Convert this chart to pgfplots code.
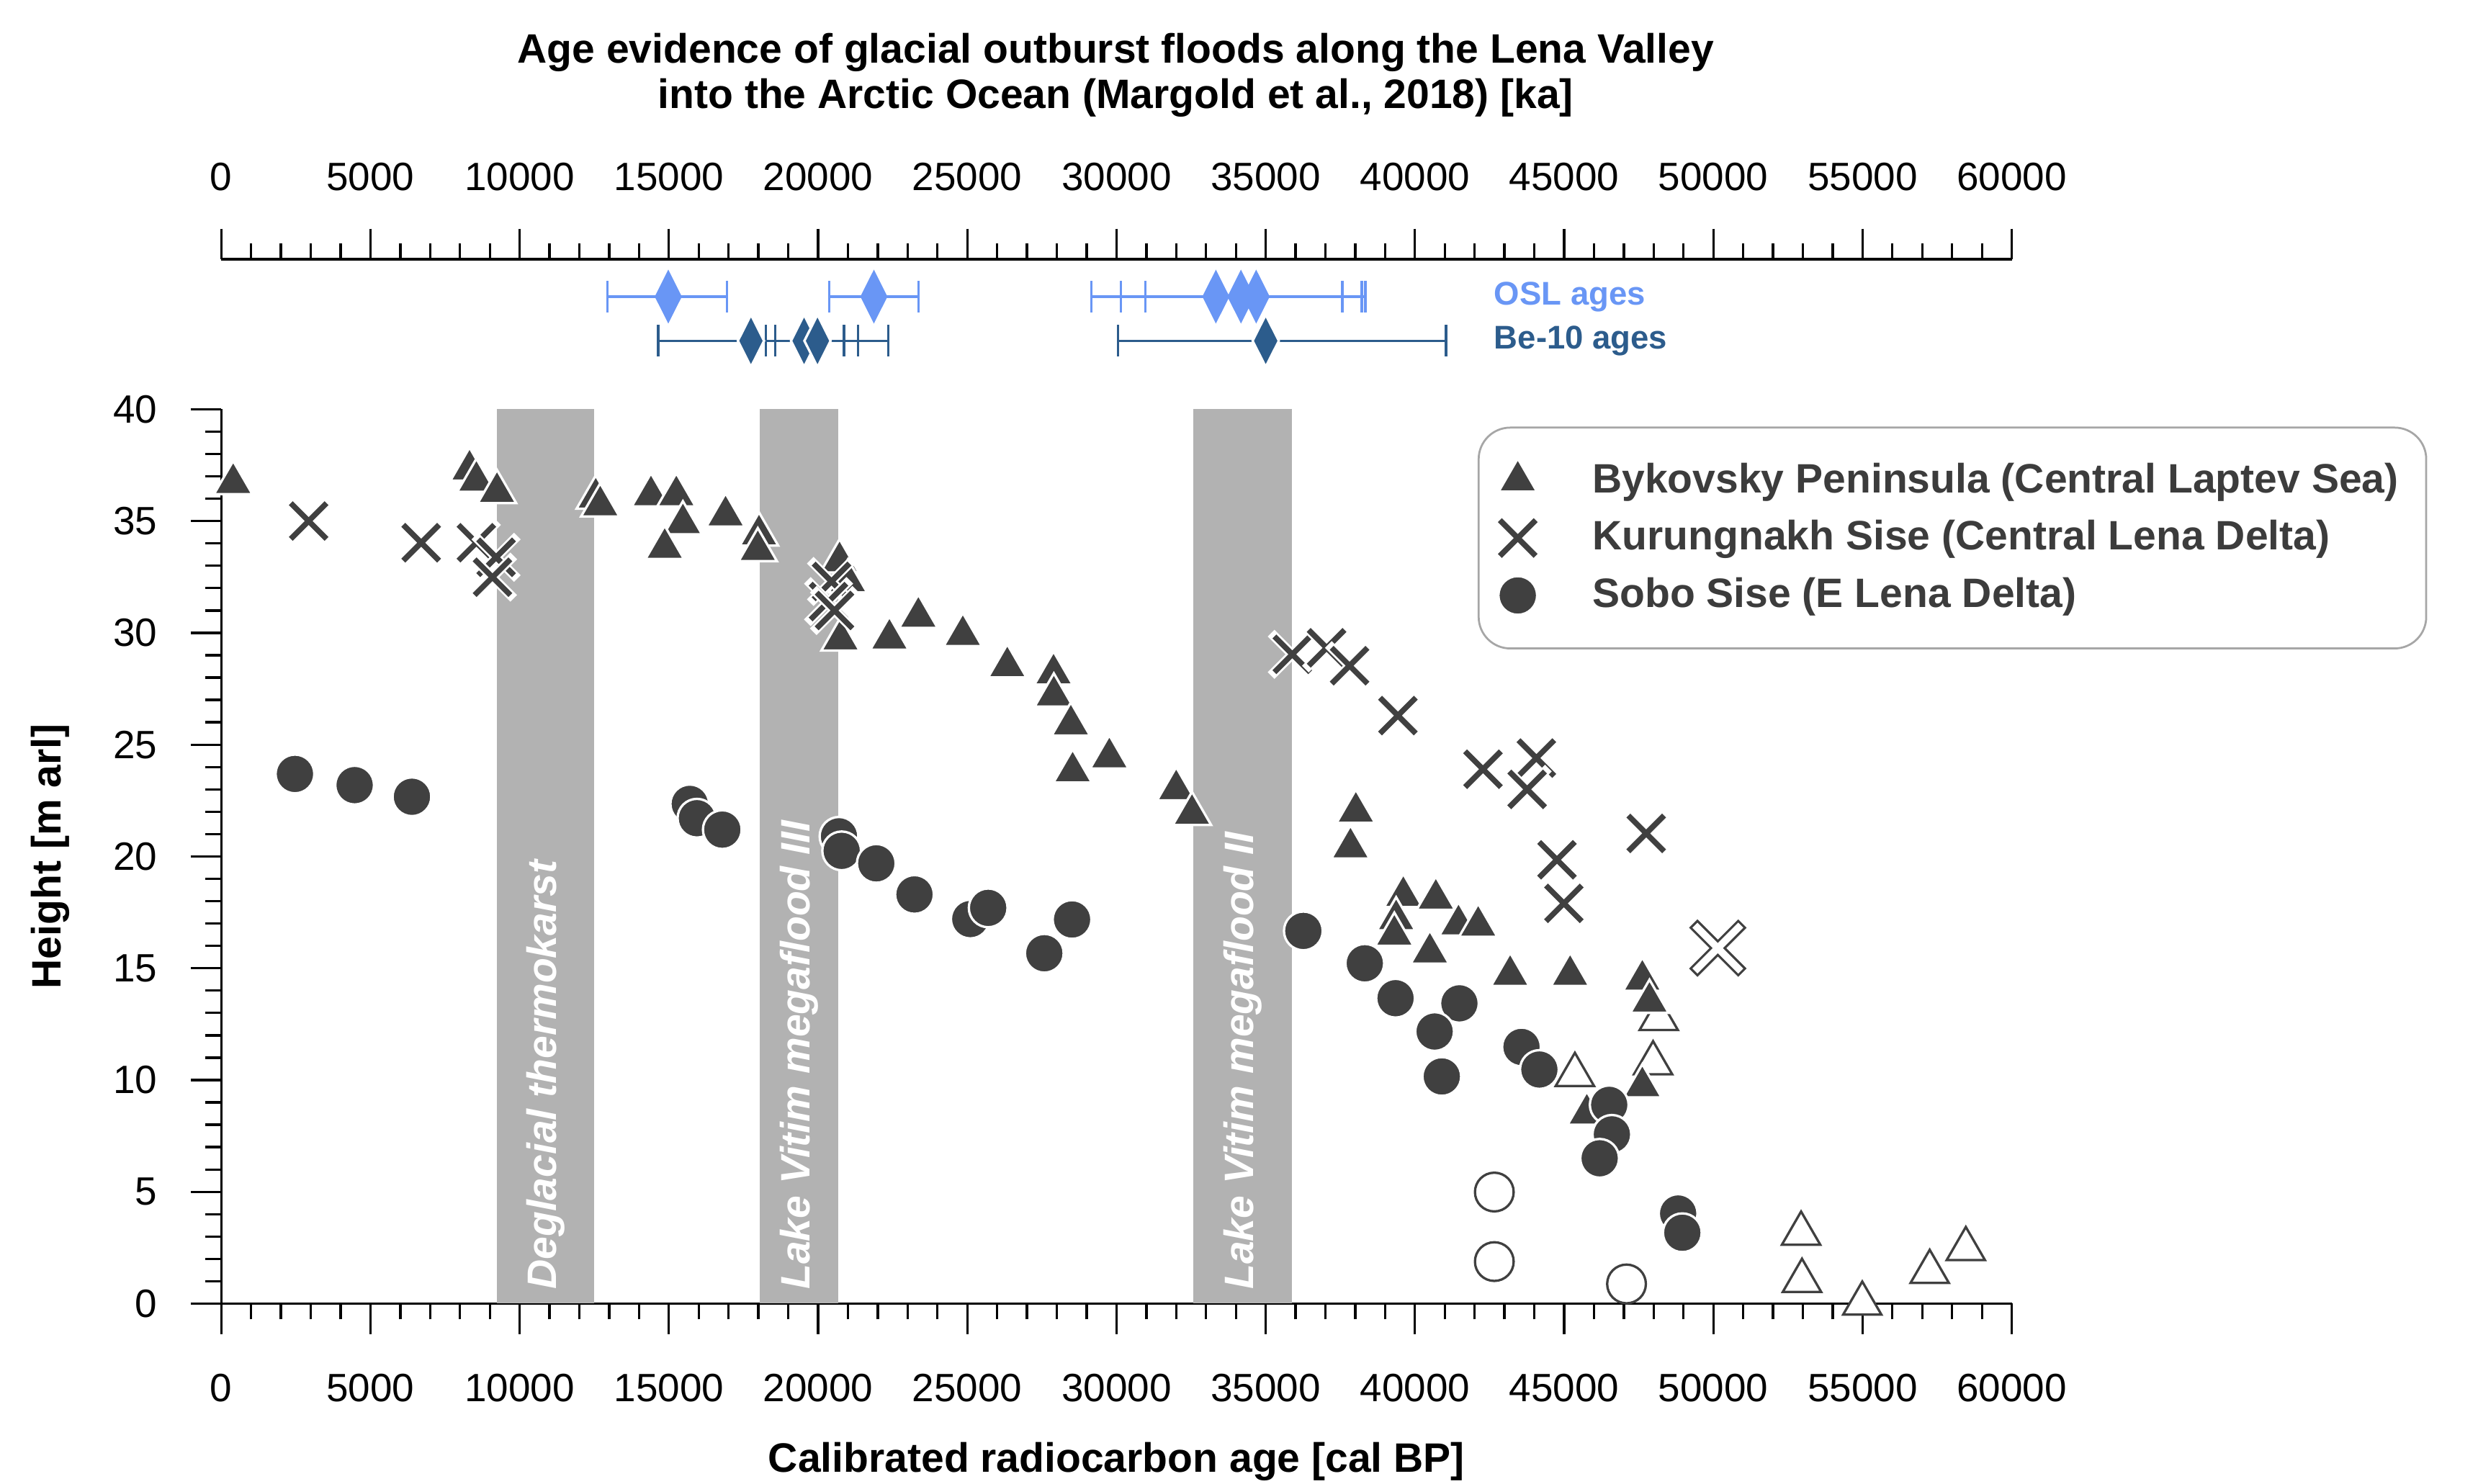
\documentclass[border=0pt]{standalone}
\usepackage{fontspec}
\setmainfont{Liberation Sans}
\usepackage{pgfplots}
\pgfplotsset{compat=1.18}

\definecolor{mk}{RGB}{64,64,64}
\definecolor{bandc}{RGB}{178,178,178}
\definecolor{osl}{RGB}{105,150,245}
\definecolor{bec}{RGB}{44,92,140}
\definecolor{txt}{RGB}{60,60,60}

\pgfdeclareplotmark{xw}{%
  \pgfsetrectcap\pgfsetlinewidth{2.4pt}\pgfsetstrokecolor{white}%
  \pgfpathmoveto{\pgfqpoint{-.7071\pgfplotmarksize}{-.7071\pgfplotmarksize}}%
  \pgfpathlineto{\pgfqpoint{.7071\pgfplotmarksize}{.7071\pgfplotmarksize}}%
  \pgfpathmoveto{\pgfqpoint{-.7071\pgfplotmarksize}{.7071\pgfplotmarksize}}%
  \pgfpathlineto{\pgfqpoint{.7071\pgfplotmarksize}{-.7071\pgfplotmarksize}}%
  \pgfusepathqstroke
  \pgfsetbuttcap\pgfsetlinewidth{1.4pt}\pgfsetstrokecolor{mk}%
  \pgfpathmoveto{\pgfqpoint{-.7071\pgfplotmarksize}{-.7071\pgfplotmarksize}}%
  \pgfpathlineto{\pgfqpoint{.7071\pgfplotmarksize}{.7071\pgfplotmarksize}}%
  \pgfpathmoveto{\pgfqpoint{-.7071\pgfplotmarksize}{.7071\pgfplotmarksize}}%
  \pgfpathlineto{\pgfqpoint{.7071\pgfplotmarksize}{-.7071\pgfplotmarksize}}%
  \pgfusepathqstroke
}
\pgfdeclareplotmark{xo}{%
  \pgfsetrectcap\pgfsetlinewidth{3.0pt}\pgfsetstrokecolor{mk}%
  \pgfpathmoveto{\pgfqpoint{-.7071\pgfplotmarksize}{-.7071\pgfplotmarksize}}%
  \pgfpathlineto{\pgfqpoint{.7071\pgfplotmarksize}{.7071\pgfplotmarksize}}%
  \pgfpathmoveto{\pgfqpoint{-.7071\pgfplotmarksize}{.7071\pgfplotmarksize}}%
  \pgfpathlineto{\pgfqpoint{.7071\pgfplotmarksize}{-.7071\pgfplotmarksize}}%
  \pgfusepathqstroke
  \pgfsetlinewidth{1.8pt}\pgfsetstrokecolor{white}%
  \pgfpathmoveto{\pgfqpoint{-.7071\pgfplotmarksize}{-.7071\pgfplotmarksize}}%
  \pgfpathlineto{\pgfqpoint{.7071\pgfplotmarksize}{.7071\pgfplotmarksize}}%
  \pgfpathmoveto{\pgfqpoint{-.7071\pgfplotmarksize}{.7071\pgfplotmarksize}}%
  \pgfpathlineto{\pgfqpoint{.7071\pgfplotmarksize}{-.7071\pgfplotmarksize}}%
  \pgfusepathqstroke
}

\pgfplotsset{
  mkleg/.style={legend image code/.code={\draw[##1] plot coordinates {(0pt,0pt)};}},
  common/.style={
    scale only axis, width=453.2pt,
    xmin=0, xmax=60000,
    xtick={0,5000,...,60000}, minor x tick num=4,
    scaled x ticks=false,
    /pgf/number format/1000 sep={},
    /pgf/number format/assume math mode=true,
    tick align=outside,
    major tick length=7.7pt, minor tick length=4pt,
    tick style={line width=0.6pt, black},
    axis line style={line width=0.6pt, black},
    ticklabel style={font=\fontsize{10}{12}\selectfont, text=black},
    clip=false,
  }
}

\begin{document}
\begin{tikzpicture}
% ---------------- top axis (ka) ----------------
\begin{axis}[common,
  at={(0pt,236.4pt)}, anchor=south west,
  height=28pt, ymin=0, ymax=70,
  axis x line*=top, axis y line=none,
  xticklabel shift=6pt,
]
\addplot[osl, only marks, mark=diamond*, mark size=6.6pt,
  mark options={xscale=0.67, fill=osl, draw=osl, line width=0.2pt},
  error bars/.cd, x dir=both, x explicit, error mark=|,
  error bar style={line width=0.6pt, osl},
  error mark options={line width=0.6pt, mark size=4pt, osl}]
coordinates {
 (14980,46.3) -= (2040,0) += (1960,0)
 (21870,46.3) -= (1500,0) += (1490,0)
 (33330,46.3) -= (4170,0) += (4240,0)
 (34170,46.3) -= (4020,0) += (4050,0)
 (34680,46.3) -= (3720,0) += (3660,0)
};
\addplot[bec, only marks, mark=diamond*, mark size=6.6pt,
  mark options={xscale=0.67, fill=bec, draw=white, line width=0.6pt},
  error bars/.cd, x dir=both, x explicit, error mark=|,
  error bar style={line width=0.6pt, bec},
  error mark options={line width=0.6pt, mark size=4pt, bec}]
coordinates {
 (17750,18.3) -= (3110,0) += (3120,0)
 (19530,18.3) -= (1280,0) += (1810,0)
 (19980,18.3) -= (1420,0) += (2370,0)
 (35000,18.3) -= (4950,0) += (6040,0)
};
\node[anchor=base west, inner sep=0pt, text=osl, font=\bfseries\fontsize{8.3}{10}\selectfont] at (axis cs:42630,41.2) {OSL ages};
\node[anchor=base west, inner sep=0pt, text=bec, font=\bfseries\fontsize{8.3}{10}\selectfont] at (axis cs:42630,13.4) {Be-10 ages};
\end{axis}

% ---------------- main axis ----------------
\begin{axis}[common,
  at={(0pt,0pt)}, anchor=south west,
  height=226.4pt, ymin=0, ymax=40,
  ytick={0,5,...,40}, minor y tick num=4,
  axis x line*=bottom, axis y line*=left,
  xticklabel shift=6.5pt, yticklabel shift=5pt,
  xlabel={Calibrated radiocarbon age [cal BP]},
  ylabel={Height [m arl]},
  xlabel style={at={(axis description cs:0.5,-0.177)}, anchor=center, font=\bfseries\fontsize{10.4}{12}\selectfont},
  ylabel style={at={(axis description cs:-0.0953,0.5)}, anchor=center, font=\bfseries\fontsize{10.4}{12}\selectfont},
  legend cell align=left,
  legend style={at={(0.7017,0.9806)}, anchor=north west, draw=gray!70, line width=0.5pt,
    rounded corners=8pt, fill=white, inner xsep=5pt, inner ysep=6.9pt,
    row sep=1.5pt, column sep=12pt, text=txt,
    font=\bfseries\fontsize{10.4}{12}\selectfont},
]
% grey bands
\addplot[fill=bandc, draw=none, forget plot] coordinates {(9240,40) (12500,40)} \closedcycle;
\addplot[fill=bandc, draw=none, forget plot] coordinates {(18040,40) (20680,40)} \closedcycle;
\addplot[fill=bandc, draw=none, forget plot] coordinates {(32570,40) (35890,40)} \closedcycle;
\node[rotate=90, anchor=west, inner sep=0pt, text=white, font=\bfseries\itshape\fontsize{10.4}{12}\selectfont] at (axis cs:10870,0.6) {Deglacial thermokarst};
\node[rotate=90, anchor=west, inner sep=0pt, text=white, font=\bfseries\itshape\fontsize{10.4}{12}\selectfont] at (axis cs:19360,0.6) {Lake Vitim megaflood III};
\node[rotate=90, anchor=west, inner sep=0pt, text=white, font=\bfseries\itshape\fontsize{10.4}{12}\selectfont] at (axis cs:34230,0.6) {Lake Vitim megaflood II};

% open symbols
\addplot[only marks, mark=triangle*, mark size=5.6pt,
  mark options={fill=white, draw=mk, line width=0.6pt}, forget plot]
coordinates {
 (48170,12.73) (47980,10.75) (45360,10.23)
 (52940,3.13) (52970,1.02) (54990,0.0) (57250,1.42) (58460,2.44)
};
\addplot[only marks, mark=*, mark size=4.9pt,
  mark options={fill=white, draw=mk, line width=0.6pt}, forget plot]
coordinates { (42660,4.99) (42660,1.88) (47090,0.88) };
\addplot[only marks, mark=xo, mark size=7.3pt, forget plot]
coordinates { (50150,15.9) };

% Bykovsky Peninsula
\addplot[only marks, mark=triangle*, mark size=5.6pt,
  mark options={fill=mk, draw=white, line width=0.6pt}, mkleg]
coordinates {
 (400,36.7) (8320,37.3) (8550,36.8) (9240,36.3)
 (12550,36.05) (12700,35.7) (14400,36.15) (15250,36.15)
 (15470,34.9) (14860,33.8) (16900,35.25) (18020,34.4) (17980,33.7)
 (20720,33.2) (21000,32.3) (20750,29.7) (22390,29.74) (23360,30.72)
 (24850,29.9) (26340,28.5) (27890,28.18) (27900,27.2) (28470,25.9)
 (28530,23.8) (29760,24.43) (32000,23.0) (32530,21.9)
 (38020,22.0) (37840,20.4) (39610,18.23) (39370,17.19) (39310,16.5)
 (40700,18.11) (40500,15.7) (41460,16.96) (42120,16.9)
 (43190,14.7) (45200,14.7) (47620,14.49) (47860,13.5)
 (47620,9.72) (45760,8.5)
};
\addlegendentry{Bykovsky Peninsula (Central Laptev Sea)}

% Kurungnakh Sise
\addplot[only marks, mark=xw, mark size=6.4pt, mkleg]
coordinates {
 (2930,35.0) (6700,34.03) (8550,34.03) (9210,33.38) (9090,32.49)
 (20450,32.3) (20350,31.4) (20550,31.0)
 (35890,29.04) (37040,29.33) (37810,28.53) (39430,26.3)
 (42280,23.9) (44070,24.4) (43760,23.0) (47750,21.03)
 (44760,19.85) (44990,17.9)
};
\addlegendentry{Kurungnakh Sise (Central Lena Delta)}

% Sobo Sise
\addplot[only marks, mark=*, mark size=4.9pt,
  mark options={fill=mk, draw=white, line width=0.6pt}, mkleg]
coordinates {
 (2470,23.69) (4470,23.19) (6390,22.67)
 (15700,22.35) (15940,21.71) (16790,21.2)
 (20700,20.9) (20790,20.25) (21950,19.69) (23230,18.3)
 (25100,17.2) (25700,17.7) (27580,15.67) (28510,17.18)
 (36260,16.67) (38320,15.22) (39350,13.66) (41490,13.43)
 (40660,12.17) (40900,10.16) (43570,11.48) (44170,10.47)
 (46510,8.89) (46600,7.57) (46190,6.5) (48820,4.03) (48960,3.17)
};
\addlegendentry{Sobo Sise (E Lena Delta)}
\end{axis}

\node[align=center, font=\bfseries\fontsize{10.4}{11.6}\selectfont] at (226.4pt,311pt)
  {Age evidence of glacial outburst floods along the Lena Valley\\into the Arctic Ocean (Margold et al., 2018) [ka]};

\pgfresetboundingbox
\path (-56pt,-45.6pt) rectangle (571.2pt,330pt);
\end{tikzpicture}
\end{document}
